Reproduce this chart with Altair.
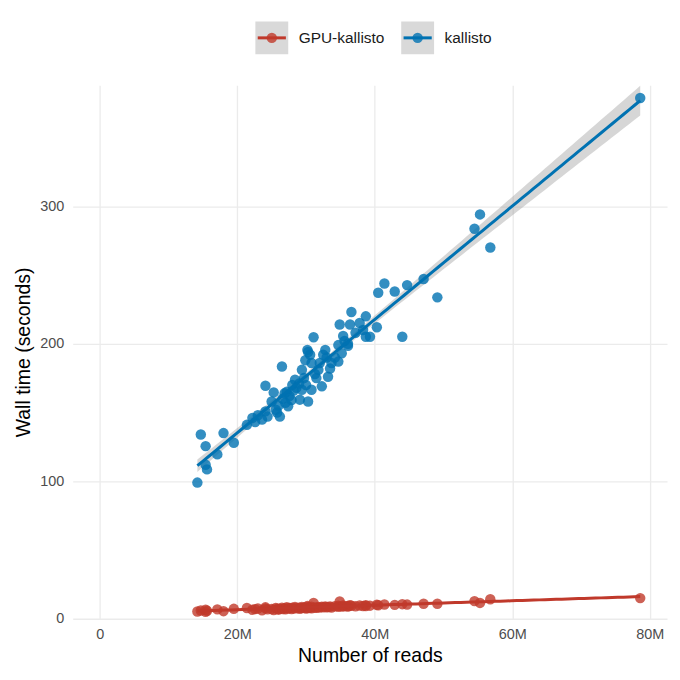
import altair as alt
import numpy as np
import pandas as pd

series_names = ["GPU-kallisto", "kallisto"]
series_colors = ["#C0392B", "#0072B2"]

reads_m = [14.2, 14.7, 15.4, 15.4, 15.6, 17.1, 18.0, 19.5, 21.4, 22.2, 22.6, 23.0,
           23.6, 24.1, 24.1, 24.4, 25.0, 25.3, 25.6, 25.8, 26.0, 26.2, 26.5, 26.6,
           26.9, 27.0, 27.2, 27.4, 27.6, 27.9, 28.0, 28.2, 28.4, 28.6, 29.0, 29.1,
           29.4, 29.4, 29.7, 29.9, 30.0, 30.2, 30.3, 30.3, 30.6, 30.8, 30.8, 31.1,
           31.3, 31.5, 31.8, 32.0, 32.3, 32.5, 32.8, 33.0, 33.2, 33.5, 33.7, 34.2,
           34.7, 34.7, 34.9, 35.2, 35.4, 35.6, 36.1, 36.1, 36.4, 36.6, 37.2, 37.8,
           38.3, 38.7, 38.7, 39.3, 40.3, 40.5, 41.4, 42.9, 44.0, 44.7, 47.1, 49.1,
           54.5, 55.3, 56.8, 78.6]

kallisto_s = [99, 134, 125.5, 112, 108.6, 119.5, 135, 128, 141, 146, 143, 148,
              144.8, 150.8, 169.4, 147, 158, 164.6, 152, 150, 155, 147, 183.4, 160,
              164, 157, 165, 154.5, 162, 159, 170, 166, 173.8, 168, 171, 159.3,
              166.5, 181, 175, 188, 170, 195.5, 158, 194, 192, 166.5, 186, 204.7,
              178, 175, 181, 186, 169, 192, 195.5, 190, 176, 182, 186, 190,
              187, 199, 214, 193, 205.6, 202, 198.4, 200, 214, 223, 208, 215,
              210, 219.9, 205, 205, 212, 237, 243.8, 238, 205, 242.6, 247, 233.7,
              283.6, 294, 269.9, 378.7]

gpu_s = [5.3, 6.0, 5.0, 6.5, 5.8, 6.8, 5.5, 7.2, 7.8, 6.5, 7.0, 7.4,
         6.2, 7.5, 8.3, 6.8, 7.1, 6.4, 7.9, 7.2, 6.6, 7.3, 8.0, 7.0,
         7.6, 6.9, 8.4, 7.4, 7.8, 7.1, 8.1, 7.5, 8.6, 7.6, 8.0, 7.2,
         7.7, 8.5, 7.9, 8.3, 7.4, 9.2, 7.8, 8.4, 8.0, 7.6, 8.7, 11.5,
         8.2, 7.9, 8.5, 8.1, 8.8, 8.3, 9.0, 8.4, 8.6, 8.9, 8.2, 9.1,
         8.7, 9.4, 12.5, 8.9, 9.6, 9.0, 9.3, 8.8, 9.8, 9.4, 9.1, 9.6,
         9.3, 9.9, 9.2, 9.5, 10.2, 9.8, 10.4, 10.1, 10.6, 10.3, 10.9, 10.9,
         12.8, 11.5, 14.2, 15.0]

points = pd.DataFrame({
    "reads": reads_m * 2,
    "time": gpu_s + kallisto_s,
    "tool": [series_names[0]] * len(reads_m) + [series_names[1]] * len(reads_m),
})

# linear fit with 95% confidence band (as geom_smooth(method="lm"))
fits = []
x = np.array(reads_m)
grid = np.linspace(x.min(), x.max(), 80)
for name, ys in zip(series_names, [gpu_s, kallisto_s]):
    y = np.array(ys)
    n = len(x)
    b1, b0 = np.polyfit(x, y, 1)
    resid = y - (b0 + b1 * x)
    s = np.sqrt(np.sum(resid ** 2) / (n - 2))
    sxx = np.sum((x - x.mean()) ** 2)
    se = s * np.sqrt(1 / n + (grid - x.mean()) ** 2 / sxx)
    t = 1.988
    yhat = b0 + b1 * grid
    fits.append(pd.DataFrame({"reads": grid, "fit": yhat, "lo": yhat - t * se,
                              "hi": yhat + t * se, "tool": name}))
fit = pd.concat(fits)

color = alt.Color("tool:N", scale=alt.Scale(domain=series_names, range=series_colors), legend=None)
xs = alt.Scale(domain=[-3.93, 82.5], nice=False, zero=False)
ys = alt.Scale(domain=[0, 388], nice=False, zero=False)

x_axis = alt.Axis(values=[0, 20, 40, 60, 80], title="Number of reads",
                  labelExpr="datum.value == 0 ? '0' : datum.value + 'M'")
y_axis = alt.Axis(values=[0, 100, 200, 300], title="Wall time (seconds)")

band = alt.Chart(fit).mark_area(color="#999999", opacity=0.4).encode(
    x=alt.X("reads:Q", scale=xs, axis=x_axis),
    y=alt.Y("lo:Q", scale=ys, axis=y_axis),
    y2="hi:Q",
    detail="tool:N",
)
pts = alt.Chart(points).mark_circle(size=110, opacity=0.8).encode(
    x=alt.X("reads:Q", scale=xs),
    y=alt.Y("time:Q", scale=ys),
    color=color,
)
line = alt.Chart(fit).mark_line(strokeWidth=3).encode(
    x=alt.X("reads:Q", scale=xs),
    y=alt.Y("fit:Q", scale=ys),
    color=color,
)
main = alt.layer(band, pts, line).properties(width=597, height=536)

legend_df = pd.DataFrame({"tool": series_names})
lx = alt.X("tool:N", scale=alt.Scale(type="point", domain=series_names, range=[200, 346.5], padding=0), axis=None)
key_bg = alt.Chart(legend_df).mark_square(size=1089, color="#d9d9d9", opacity=1).encode(x=lx)
key_line = alt.Chart(legend_df).mark_point(shape="stroke", strokeWidth=3, size=800, opacity=1, filled=False).encode(
    x=lx, stroke=alt.Color("tool:N", scale=alt.Scale(domain=series_names, range=series_colors), legend=None))
key_pt = alt.Chart(legend_df).mark_circle(size=110, opacity=0.8).encode(x=lx, color=color)
key_txt = alt.Chart(legend_df).mark_text(align="left", dx=27, fontSize=15.5, color="#1a1a1a",
                                         font="Liberation Sans").encode(x=lx, text="tool:N")
legend = alt.layer(key_bg, key_line, key_pt, key_txt).properties(width=597, height=47)

chart = alt.vconcat(legend, main, spacing=24, bounds="flush").configure_view(stroke=None).configure_axis(
    grid=True, gridColor="#ebebeb", gridWidth=1.3, domain=False, ticks=False,
    labelFont="Liberation Sans", labelFontSize=14.5, labelColor="#4d4d4d", labelPadding=9,
    titleFont="Liberation Sans", titleFontSize=19.5, titleFontWeight="normal", titleColor="#000000",
).configure_axisX(titlePadding=5).configure_axisY(titlePadding=6)

chart.save("out.html", embed_options={"renderer": "svg", "actions": False})
